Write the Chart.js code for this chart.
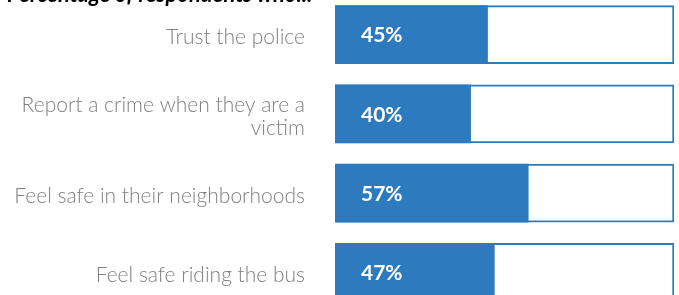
<!DOCTYPE html>
<html>
<head>
<meta charset="utf-8">
<script src="https://cdn.jsdelivr.net/npm/chart.js@4.4.1/dist/chart.umd.min.js"></script>
<style>
  html, body { margin: 0; padding: 0; background: #fff; overflow: hidden; }
  body { width: 679px; height: 295px; position: relative; }
  #title {
    position: absolute; left: 7px; top: -17px; z-index: 2;
    font: italic bold 22px Lato, sans-serif; line-height: 1; color: #000; white-space: nowrap;
  }
  #wrap { position: absolute; left: 0; top: -5px; width: 679px; height: 317px; }
</style>
</head>
<body>
<div id="title">Percentage of respondents who...</div>
<div id="wrap"><canvas id="bar-chart"></canvas></div>
<script>
// data
const categories = [
  "Trust the police",
  ["Report a crime when they are a", "victim"],
  "Feel safe in their neighborhoods",
  "Feel safe riding the bus"
];
const percentValues = [45, 40, 57, 47];
const fullValues = [100, 100, 100, 100];

const BLUE = "#2d7bbe";

// draws "45%" etc inside the blue bars
const valueLabels = {
  id: "valueLabels",
  afterDatasetsDraw(chart) {
    const ctx = chart.ctx;
    const meta = chart.getDatasetMeta(0);
    ctx.save();
    ctx.fillStyle = "#fff";
    ctx.font = "bold 21px Lato, sans-serif";
    ctx.textAlign = "left";
    ctx.textBaseline = "middle";
    meta.data.forEach((bar, i) => {
      ctx.fillText(percentValues[i] + "%", bar.base + 26, bar.y + 1);
    });
    ctx.restore();
  }
};

const barChart = new Chart(document.getElementById("bar-chart").getContext("2d"), {
  type: "bar",
  data: {
    labels: categories,
    datasets: [
      {
        data: percentValues,
        backgroundColor: BLUE,
        borderWidth: 0,
        grouped: false,
        order: 0
      },
      {
        data: fullValues,
        backgroundColor: "#fff",
        borderColor: BLUE,
        borderWidth: 2,
        borderSkipped: false,
        grouped: false,
        order: 1
      }
    ]
  },
  options: {
    indexAxis: "y",
    responsive: true,
    maintainAspectRatio: false,
    animation: false,
    layout: { padding: { top: 0, bottom: 0, left: 0, right: 5 } },
    plugins: {
      legend: { display: false },
      tooltip: { enabled: false }
    },
    scales: {
      x: { display: false, min: 0, max: 100 },
      y: {
        grid: { display: false, drawTicks: false },
        border: { display: false },
        ticks: {
          padding: 30,
          labelOffset: 3,
          color: "#808080",
          font: { family: "Lato", size: 21, weight: 300, lineHeight: 1.1 }
        },
        afterFit(scale) {
          scale.width = 335;
          scale.paddingTop = 0;
          scale.paddingBottom = 0;
        }
      }
    },
    datasets: { bar: { categoryPercentage: 1, barThickness: 58 } }
  },
  plugins: [valueLabels]
});
</script>
</body>
</html>
